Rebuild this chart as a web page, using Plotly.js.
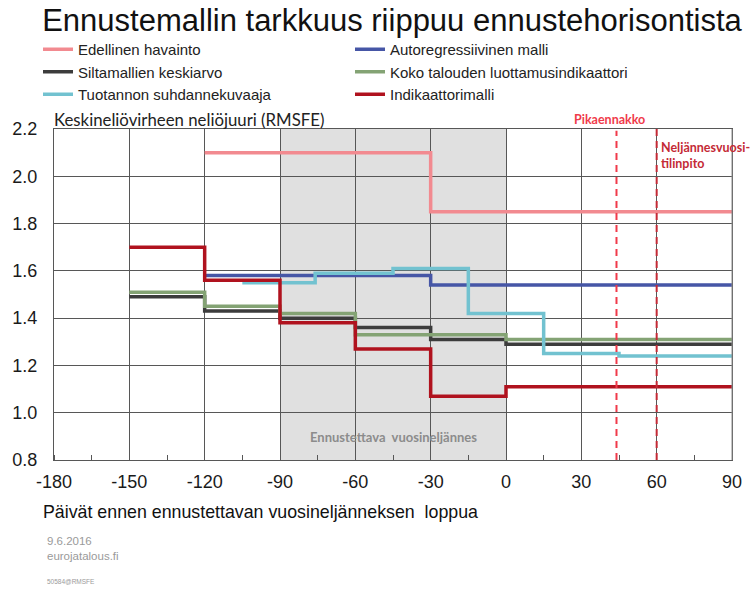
<!DOCTYPE html>
<html>
<head>
<meta charset="utf-8">
<script src="https://cdn.plot.ly/plotly-3.0.1.min.js"></script>
<style>html,body{margin:0;padding:0;background:#fff;}#chart{width:753px;height:590px;}</style>
</head>
<body>
<div id="chart"></div>
<script>
// ---- data ----
const seriesNames = ["Edellinen havainto", "Autoregressiivinen malli", "Siltamallien keskiarvo",
  "Koko talouden luottamusindikaattori", "Tuotannon suhdannekuvaaja", "Indikaattorimalli"];

const edellinenDays = [-120, -30, 90];
const edellinenRmsfe = [2.10, 1.85, 1.85];

const autoregDays = [-120, -30, 90];
const autoregRmsfe = [1.58, 1.54, 1.54];

const siltaDays = [-150, -120, -90, -60, -30, 0, 90];
const siltaRmsfe = [1.49, 1.43, 1.40, 1.36, 1.31, 1.29, 1.29];

const kokoDays = [-150, -120, -90, -60, -30, 0, 90];
const kokoRmsfe = [1.51, 1.45, 1.42, 1.33, 1.33, 1.31, 1.31];

const tuotantoDays = [-105, -76, -45, -15, 15, 45, 90];
const tuotantoRmsfe = [1.55, 1.59, 1.61, 1.42, 1.25, 1.24, 1.24];

const indikDays = [-150, -120, -90, -60, -30, 0, 90];
const indikRmsfe = [1.70, 1.56, 1.38, 1.27, 1.07, 1.11, 1.11];

const forecastQuarter = [-90, 0];
const pikaennakkoDay = 44;
const tilinpitoDay = 60;

const xTicks = [-180, -150, -120, -90, -60, -30, 0, 30, 60, 90];
const yTicks = [0.8, 1.0, 1.2, 1.4, 1.6, 1.8, 2.0, 2.2];

// ---- layout helpers ----
const FW = 753, FH = 590;
const M = {l: 54, r: 21, t: 129, b: 130};
const PW = FW - M.l - M.r, PH = FH - M.t - M.b;
const px2x = p => (p - M.l) / PW;
const py2y = p => (FH - M.b - p) / PH;

const colors = ["#f28a90", "#4656a6", "#3c3c3c", "#84a374", "#72c2d0", "#b0121e"];
const xs = [edellinenDays, autoregDays, siltaDays, kokoDays, tuotantoDays, indikDays];
const ys = [edellinenRmsfe, autoregRmsfe, siltaRmsfe, kokoRmsfe, tuotantoRmsfe, indikRmsfe];

const traces = seriesNames.map((n, i) => ({
  type: "scatter", mode: "lines", name: n,
  x: xs[i], y: ys[i],
  line: {shape: "hv", color: colors[i], width: 3.5},
  hoverinfo: "skip"
}));

const gridC = "#575757";
const layout = {
  width: FW, height: FH,
  margin: M,
  paper_bgcolor: "#fff", plot_bgcolor: "rgba(0,0,0,0)",
  showlegend: true,
  title: {
    text: "Ennustemallin tarkkuus riippuu ennustehorisontista",
    font: {family: "Liberation Sans, Arial, sans-serif", size: 31, color: "#111"},
    x: 392 / FW, xanchor: "center", xref: "container",
    y: 1 - 20 / FH, yanchor: "middle", yref: "container"
  },
  legend: {
    orientation: "h", x: px2x(38), xanchor: "left", y: py2y(33), yanchor: "top",
    entrywidth: 267, entrywidthmode: "pixels",
    font: {family: "Liberation Sans, Arial, sans-serif", size: 15, color: "#222"},
    bgcolor: "rgba(0,0,0,0)", tracegroupgap: 0, itemwidth: 30
  },
  xaxis: {
    range: [-180, 90], tickvals: xTicks, ticktext: xTicks.map(String),
    showgrid: true, gridcolor: gridC, gridwidth: 1, zeroline: false,
    showline: true, mirror: true, linecolor: gridC, linewidth: 1,
    ticks: "", ticklabelstandoff: 5,
    minor: {ticks: "inside", dtick: 15, tick0: -180, ticklen: 5, tickcolor: gridC, showgrid: false},
    tickfont: {family: "Liberation Sans, Arial, sans-serif", size: 18, color: "#1a1a1a"},
    fixedrange: true
  },
  yaxis: {
    range: [0.8, 2.2], tickvals: yTicks, ticktext: yTicks.map(v => v.toFixed(1)),
    showgrid: true, gridcolor: gridC, gridwidth: 1, zeroline: false,
    showline: true, mirror: true, linecolor: gridC, linewidth: 1,
    ticks: "", ticklabelstandoff: 12,
    tickfont: {family: "Liberation Sans, Arial, sans-serif", size: 18, color: "#1a1a1a"},
    fixedrange: true
  },
  shapes: [
    {type: "rect", xref: "x", yref: "paper", x0: forecastQuarter[0], x1: forecastQuarter[1], y0: 0, y1: 1,
     fillcolor: "#e0e0e0", line: {width: 0}, layer: "below"},
    {type: "line", xref: "x", yref: "paper", x0: pikaennakkoDay, x1: pikaennakkoDay, y0: 0, y1: 0.995,
     line: {color: "#f03a4a", width: 2, dash: "7px,5px"}},
    {type: "line", xref: "x", yref: "paper", x0: tilinpitoDay, x1: tilinpitoDay, y0: 0, y1: 1,
     line: {color: "#c42a36", width: 2, dash: "7px,5px"}},
    {type: "line", xref: "paper", yref: "paper", x0: 1, x1: 1, y0: 0, y1: 1, xshift: -3,
     line: {color: "#8a8a8a", width: 1}}
  ],
  annotations: [
    {text: "Keskineliövirheen neliöjuuri (RMSFE)", xref: "paper", yref: "paper",
     x: px2x(52), y: py2y(119), xanchor: "left", yanchor: "middle", showarrow: false,
     font: {family: "Lato, Open Sans, sans-serif", size: 16.8, color: "#222"}},
    {text: "<b>Pikaennakko</b>", xref: "paper", yref: "paper", x: px2x(609), y: py2y(119),
     xanchor: "center", yanchor: "middle", showarrow: false,
     font: {family: "Lato, Open Sans, sans-serif", size: 12.5, color: "#f03a4a"}},
    {text: "<b>Neljännesvuosi-<br>tilinpito</b>", xref: "paper", yref: "paper", x: px2x(659), y: py2y(155),
     xanchor: "left", yanchor: "middle", align: "left", showarrow: false,
     font: {family: "Lato, Open Sans, sans-serif", size: 12.5, color: "#c42a36"}},
    {text: "<b>Ennustettava  vuosineljännes</b>", xref: "x", yref: "paper",
     x: (forecastQuarter[0] + forecastQuarter[1]) / 2, y: py2y(437),
     xanchor: "center", yanchor: "middle", showarrow: false,
     font: {family: "Lato, Open Sans, sans-serif", size: 13, color: "#8c8c8c"}},
    {text: "Päivät ennen ennustettavan vuosineljänneksen  loppua", xref: "paper", yref: "paper",
     x: px2x(41), y: py2y(512), xanchor: "left", yanchor: "middle", showarrow: false,
     font: {family: "Liberation Sans, Arial, sans-serif", size: 17.8, color: "#111"}},
    {text: "9.6.2016", xref: "paper", yref: "paper",
     x: px2x(45), y: py2y(541), xanchor: "left", yanchor: "middle", showarrow: false,
     font: {family: "Liberation Sans, Arial, sans-serif", size: 11.5, color: "#9a9a9a"}},
    {text: "eurojatalous.fi", xref: "paper", yref: "paper",
     x: px2x(45), y: py2y(556), xanchor: "left", yanchor: "middle", showarrow: false,
     font: {family: "Liberation Sans, Arial, sans-serif", size: 11.5, color: "#9a9a9a"}},
    {text: "50584@RMSFE", xref: "paper", yref: "paper",
     x: px2x(45), y: py2y(581), xanchor: "left", yanchor: "middle", showarrow: false,
     font: {family: "Liberation Sans, Arial, sans-serif", size: 6.5, color: "#9a9a9a"}}
  ]
};

Plotly.newPlot("chart", traces, layout, {displayModeBar: false, staticPlot: true});
</script>
</body>
</html>
